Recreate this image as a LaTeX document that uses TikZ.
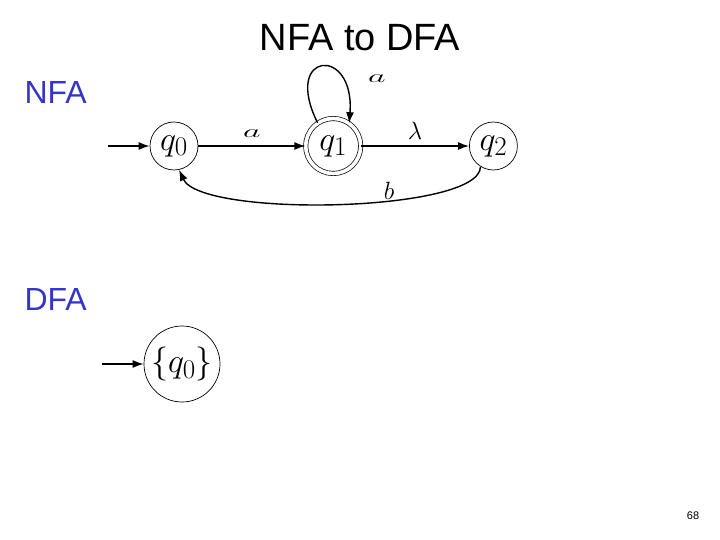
\RequirePackage{fix-cm}
\documentclass[tikz,border=0pt]{standalone}
\usepackage{amsmath}
\usepackage{graphicx}
\usepackage{fontspec}
\usepackage{xcolor}
\usepackage{tikz}
\usetikzlibrary{arrows.meta,positioning}
\newfontfamily\slidefont{Liberation Sans}
\DeclareMathSizes{34}{34}{27}{20}
\definecolor{ink}{HTML}{000000}
\definecolor{headblue}{HTML}{3535C8}
\newcommand{\widesym}[1]{\scalebox{1.9}[1]{$#1$}}
\tikzset{
  >={Latex[length=11pt,width=8pt]},
  every node/.style={text=ink},
  state/.style={circle,draw=ink,line width=0.7pt,minimum size=48pt,inner sep=0pt,font=\fontsize{34}{38}\selectfont},
  accept/.style={state,double,double distance=3.6pt,minimum size=55pt},
  bigstate/.style={state,minimum size=76pt},
  edge/.style={->,line width=1.4pt,draw=ink},
  edgelabel/.style={font=\fontsize{18}{22}\selectfont,inner sep=0pt},
  biglabel/.style={font=\fontsize{25}{28}\selectfont,inner sep=0pt},
  title/.style={font=\slidefont\fontsize{38}{42}\selectfont},
  tag/.style={font=\slidefont\fontsize{32}{36}\selectfont,text=headblue,anchor=west},
  pagenum/.style={font=\slidefont\fontsize{11}{13}\selectfont}
}
\begin{document}
\begin{tikzpicture}[x=1pt,y=-1pt]
  \useasboundingbox (0,0) rectangle (720,540);
  \node[title] (head) at (360,38) {NFA to DFA};
  \node[tag] (nfatag) at (21,92) {NFA};
  \node[tag] (dfatag) at (21,299) {DFA};

  % NFA
  \node[state] (q0) at (174,146) {$q_0$};
  \node[accept,right=107pt of q0] (q1) {$q_1$};
  \node[state,right=108pt of q1] (q2) {$q_2$};
  \coordinate[left=42pt of q0] (start0);

  \draw[edge] (start0) -- (q0);
  \draw[edge] (q0) -- node[edgelabel,above=8pt] (lab01) {\widesym{a}} (q1);
  \draw[edge] (q1) -- node[biglabel,above=6pt] (lab12) {$\lambda$} (q2);
  \draw[edge] (q1.124) .. controls +(-36,-72) and +(6,-78) .. (q1.55);
  \node[edgelabel] (lab11) at (377,79) {\widesym{a}};
  \draw[edge] (q2.238) .. controls +(0,46) and +(22,48) .. (q0.-78);
  \node[biglabel] (lab20) at (389,191) {$b$};

  % DFA
  \node[bigstate] (d0) at (182,364) {$\{q_0\}$};
  \coordinate[left=42pt of d0] (start1);
  \draw[edge] (start1) -- (d0);

  \node[pagenum] (page) at (693,516) {68};
\end{tikzpicture}
\end{document}
